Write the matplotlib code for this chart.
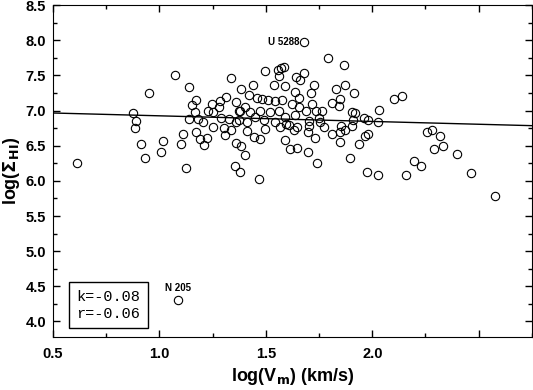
import matplotlib
matplotlib.use('Agg')
import matplotlib.pyplot as plt
from matplotlib.ticker import MultipleLocator
import numpy as np

# log(V_m) and log(Sigma_HI)
logv = [0.615, 0.878, 0.889, 0.887, 0.952, 0.915, 0.933, 1.006, 1.019, 1.075,
        1.103, 1.111, 1.125, 1.138, 1.139, 1.172, 1.155, 1.168, 1.182, 1.172,
        1.189, 1.089,
        1.205, 1.210, 1.224, 1.229, 1.247, 1.252, 1.252, 1.280, 1.283, 1.291,
        1.302, 1.310, 1.315, 1.327, 1.335, 1.337, 1.355, 1.358, 1.360, 1.362,
        1.372, 1.374, 1.380, 1.385, 1.385,
        1.380, 1.404, 1.412, 1.412, 1.404, 1.419, 1.427, 1.438, 1.443, 1.451,
        1.459, 1.466, 1.474, 1.474, 1.482, 1.490, 1.498, 1.498, 1.508, 1.521,
        1.537, 1.541, 1.545, 1.557, 1.560, 1.560, 1.568, 1.576, 1.585, 1.572,
        1.592, 1.592, 1.592, 1.596,
        1.607, 1.615, 1.623, 1.632, 1.638, 1.638, 1.642, 1.646, 1.646, 1.657,
        1.659, 1.654, 1.680, 1.681, 1.690, 1.696, 1.696, 1.701, 1.701, 1.712,
        1.717, 1.724, 1.732, 1.737, 1.740, 1.748, 1.756, 1.764, 1.775, 1.790,
        1.811, 1.811, 1.831, 1.842, 1.847, 1.850, 1.850, 1.853, 1.865, 1.873,
        1.873, 1.893, 1.905, 1.905, 1.910, 1.912, 1.920, 1.936, 1.959, 1.967,
        1.976, 1.980, 1.980,
        2.027, 2.025, 2.033, 2.100, 2.140, 2.160, 2.194, 2.228, 2.258, 2.280,
        2.316, 2.288, 2.330, 2.396, 2.462, 2.576]
logs = [6.25, 6.97, 6.85, 6.75, 7.25, 6.53, 6.33, 6.41, 6.57, 7.50,
        6.52, 6.67, 6.18, 7.33, 6.88, 7.15, 7.08, 6.98, 6.88, 6.70,
        6.60, 4.31,
        6.83, 6.51, 6.61, 6.99, 7.09, 6.98, 6.76, 7.05, 7.13, 6.89,
        6.75, 6.65, 7.19, 6.88, 6.72, 7.46, 6.21, 7.12, 6.54, 6.84,
        6.86, 6.99, 6.13, 7.31, 6.49,
        7.00, 7.05, 6.84, 6.71, 6.37, 7.22, 6.98, 7.37, 6.62, 6.91,
        7.18, 6.03, 7.00, 6.60, 7.17, 6.86, 7.56, 6.74, 7.15, 6.98,
        7.37, 7.13, 6.84, 7.58, 7.49, 7.00, 6.77, 7.15, 7.62, 7.60,
        7.35, 6.91, 6.58, 6.81,
        6.79, 6.46, 7.10, 6.72, 7.27, 6.93, 7.48, 6.76, 6.47, 7.05,
        7.43, 7.18, 7.53, 7.97, 6.99, 6.70, 6.41, 6.85, 6.78, 7.25,
        7.10, 7.36, 6.61, 7.00, 6.25, 6.90, 6.84, 6.99, 6.77, 7.75,
        7.11, 6.66, 7.31, 7.06, 6.55, 7.16, 6.69, 6.78, 7.65, 7.36,
        6.72, 6.32, 6.98, 6.78, 6.87, 7.25, 6.97, 6.53, 6.89, 6.64,
        6.13, 6.86, 6.67,
        6.84, 6.09, 7.01, 7.16, 7.20, 6.08, 6.28, 6.21, 6.70, 6.73,
        6.64, 6.46, 6.50, 6.38, 6.11, 5.79]

k = -0.08
r = -0.06
b = 7.005

fig = plt.figure(figsize=(5.33, 3.90), dpi=100)
ax = fig.add_axes([0.0994, 0.136, 0.8986, 0.851])

ax.plot(logv, logs, 'o', ms=6, mfc='none', mec='black', mew=0.8)

xl = np.array([0.5, 2.75])
ax.plot(xl, b + k * xl, color='black', lw=1)

ax.set_xlim(0.5, 2.75)
ax.set_ylim(3.78, 8.5)
ax.xaxis.set_minor_locator(MultipleLocator(0.25))
ax.yaxis.set_minor_locator(MultipleLocator(0.25))
ax.set_xticks([0.5, 1.0, 1.5, 2.0, 2.5])
ax.set_xticklabels(['0.5', '1.0', '1.5', '2.0', ''])
ax.set_yticks(np.arange(4.0, 8.51, 0.5))
ax.tick_params(which='both', direction='in', top=True, right=True)
ax.tick_params(which='major', length=5, width=1)
ax.tick_params(which='minor', length=3, width=1)
ax.tick_params(axis='x', pad=7)
ax.tick_params(axis='y', pad=5)
for lab in ax.get_xticklabels() + ax.get_yticklabels():
    lab.set_fontfamily('Liberation Sans')
    lab.set_fontweight('bold')
    lab.set_fontsize(10.5)

ax.set_xlabel(r'log(V$_\mathbf{m}$) (km/s)', fontsize=13, fontweight='bold',
              family='Liberation Sans')
ax.set_ylabel(r'log($\mathbf{\Sigma}_\mathbf{HI}$)', fontsize=13, fontweight='bold',
              family='Liberation Sans')
ax.yaxis.set_label_coords(-0.064, 0.5)

ax.text(1.657, 7.97, 'U 5288', fontsize=7, fontweight='bold', ha='right',
        va='center', family='Liberation Sans')
ax.text(1.089, 4.40, 'N 205', fontsize=7, fontweight='bold', ha='center',
        va='bottom', family='Liberation Sans')

ax.text(0.76, 4.23, f'k={k:.2f}\nr={r:.2f}',
        family='Liberation Mono', fontsize=11, va='center', ha='center',
        linespacing=1.25,
        bbox=dict(boxstyle='square,pad=0.5', fc='white', ec='black', lw=1))

fig.savefig('out.png', dpi=100)
